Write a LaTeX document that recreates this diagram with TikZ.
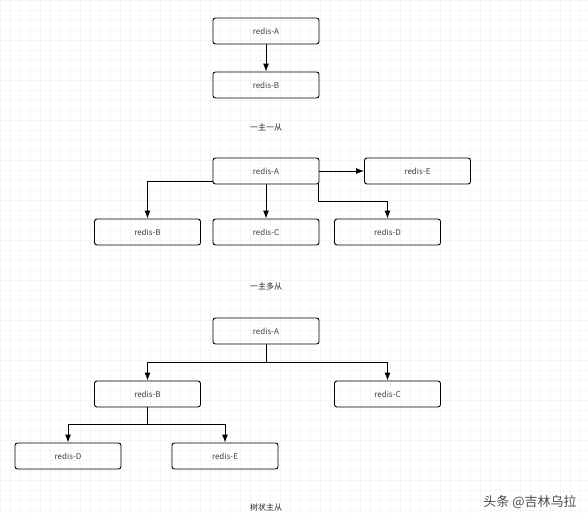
\documentclass[tikz,border=0pt]{standalone}
\usepackage{fontspec}
\newfontfamily\cjk{Noto Sans CJK SC}
\usetikzlibrary{arrows.meta}
\begin{document}
\begin{tikzpicture}[x=1pt, y=-1pt, font=\cjk\fontsize{8}{9}\selectfont,
		redisbox/.style={draw, line width=0.9pt, rounded corners=2.5pt, minimum width=106pt, minimum height=26pt, inner sep=0pt, text=black!75},
		link/.style={line width=0.9pt, -{Latex[length=8pt, width=6pt]}},
		caption/.style={text=black!85}]
		\useasboundingbox (0, 0) rectangle (588, 514);
		\fill[white] (0, 0) rectangle (588, 514);
		\foreach \x in {0, 10, ..., 580} {
			\draw[black!4, line width=0.4pt] (\x, 0) -- (\x, 514);
		}
		\foreach \y in {0, 10, ..., 510} {
			\draw[black!4, line width=0.4pt] (0, \y) -- (588, \y);
		}

		% one master, one slave
		\node[redisbox] (a1) at (266, 31) {redis-A};
		\node[redisbox] (b1) at (266, 85) {redis-B};
		\node[caption] (t1) at (266, 127) {一主一从};
		\draw[link] (a1.south) -- (b1.north);

		% one master, many slaves
		\node[redisbox] (a2) at (266, 171) {redis-A};
		\node[redisbox] (e2) at (417.5, 171) {redis-E};
		\node[redisbox] (b2) at (147.5, 232) {redis-B};
		\node[redisbox] (c2) at (266, 232) {redis-C};
		\node[redisbox] (d2) at (387.5, 232) {redis-D};
		\node[caption] (t2) at (266, 286) {一主多从};
		\draw[link] (a2.east) -- (e2.west);
		\draw[link] ([yshift=-10pt]a2.west) -| (b2.north);
		\draw[link] (a2.south) -- (c2.north);
		\draw[link] ([xshift=-1pt]a2.south east) -- ++(0, 17) -| (d2.north);

		% tree
		\node[redisbox] (a3) at (266, 331) {redis-A};
		\node[redisbox] (b3) at (147.5, 394) {redis-B};
		\node[redisbox] (c3) at (387.5, 394) {redis-C};
		\node[redisbox] (d3) at (68, 456) {redis-D};
		\node[redisbox] (e3) at (225, 456) {redis-E};
		\node[caption] (t3) at (266, 507) {树状主从};
		\draw[line width=0.9pt] (a3.south) -- ++(0, 18) coordinate (ja);
		\draw[link] (ja) -| (b3.north);
		\draw[link] (ja) -| (c3.north);
		\draw[line width=0.9pt] (b3.south) -- ++(0, 17) coordinate (jb);
		\draw[link] (jb) -| (d3.north);
		\draw[link] (jb) -| (e3.north);

		\node[text=black!70, font=\cjk\fontsize{13}{15}\selectfont] (wm) at (530, 502) {头条 @吉林乌拉};
	\end{tikzpicture}
\end{document}
